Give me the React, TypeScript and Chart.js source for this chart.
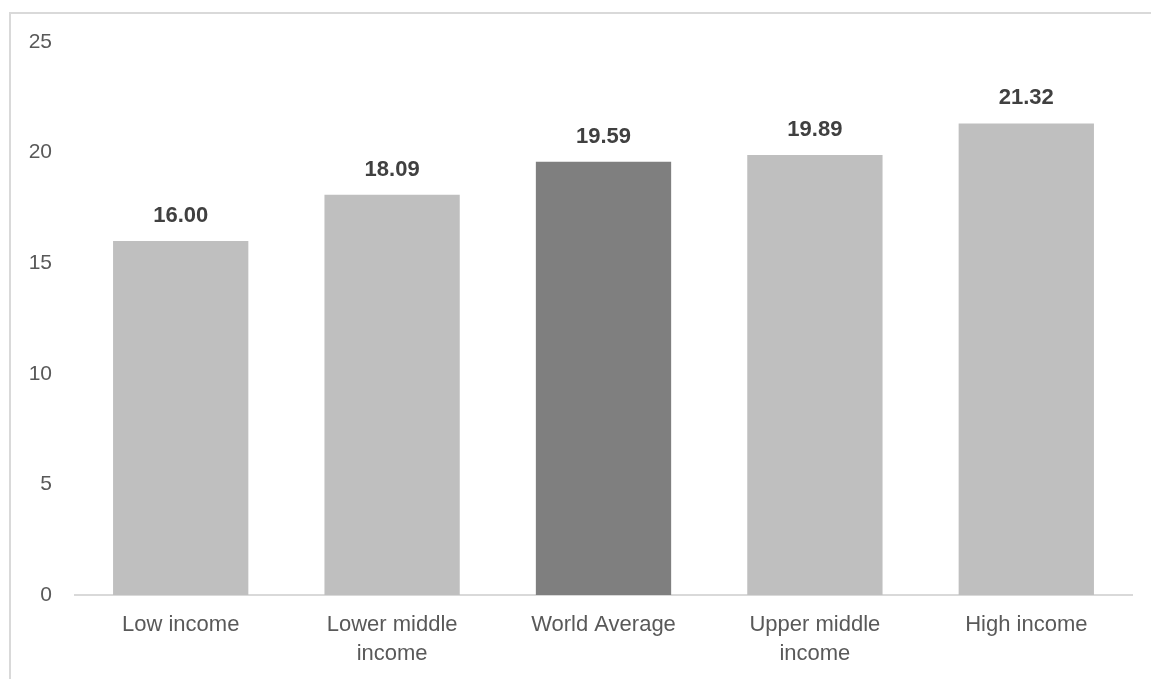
import React, { useEffect, useRef } from "react";
import { Chart, registerables } from "chart.js";

Chart.register(...registerables);

const categories: (string | string[])[] = [
  "Low income",
  ["Lower middle", "income"],
  "World Average",
  ["Upper middle", "income"],
  "High income",
];
const values: number[] = [16.0, 18.09, 19.59, 19.89, 21.32];
const barColors: string[] = ["#bfbfbf", "#bfbfbf", "#7f7f7f", "#bfbfbf", "#bfbfbf"];
const yTicks: number[] = [0, 5, 10, 15, 20, 25];

const FONT = "'Liberation Sans', Arial, sans-serif";

const valueLabels = {
  id: "valueLabels",
  afterDatasetsDraw(chart: any) {
    const ctx = chart.ctx;
    const meta = chart.getDatasetMeta(0);
    ctx.save();
    ctx.font = `bold 22px ${FONT}`;
    ctx.fillStyle = "#404040";
    ctx.textAlign = "center";
    ctx.textBaseline = "middle";
    meta.data.forEach((bar: any, i: number) => {
      ctx.fillText(values[i].toFixed(2), bar.x, bar.y - 25);
    });
    ctx.restore();
  },
};

export default function App() {
  const ref = useRef<HTMLCanvasElement | null>(null);
  useEffect(() => {
    document.body.style.margin = "0";
    const chart = new Chart(ref.current as HTMLCanvasElement, {
      type: "bar",
      data: {
        labels: categories,
        datasets: [
          {
            data: values,
            backgroundColor: barColors,
            barPercentage: 0.64,
            categoryPercentage: 1,
          },
        ],
      },
      options: {
        animation: false,
        responsive: false,
        maintainAspectRatio: false,
        layout: { padding: { top: 42, right: 19, left: 0, bottom: 0 } },
        plugins: { legend: { display: false }, tooltip: { enabled: false } },
        scales: {
          x: {
            grid: { display: false, drawTicks: false },
            border: { display: true, color: "#d9d9d9", width: 2 },
            ticks: {
              color: "#595959",
              font: { family: FONT, size: 22, lineHeight: 1.3 },
              padding: 16,
              maxRotation: 0,
              autoSkip: false,
            },
            afterFit(s: any) {
              s.height = 84;
            },
          },
          y: {
            min: 0,
            max: 25,
            afterBuildTicks(s: any) {
              s.ticks = yTicks.map((v) => ({ value: v }));
            },
            grid: { display: false, drawTicks: false },
            border: { display: false },
            ticks: {
              color: "#595959",
              font: { family: FONT, size: 21 },
              padding: 23,
            },
            afterFit(s: any) {
              s.width = 75;
            },
          },
        },
      },
      plugins: [valueLabels],
    });
    return () => chart.destroy();
  }, []);
  return (
    <div style={{ position: "relative", width: 1151, height: 679, overflow: "hidden" }}>
      <div
        style={{
          position: "absolute",
          left: 9,
          top: 12,
          width: 1300,
          height: 800,
          borderTop: "2px solid #d9d9d9",
          borderLeft: "2px solid #d9d9d9",
        }}
      />
      <canvas ref={ref} width={1151} height={679} style={{ position: "absolute", left: 0, top: 0 }} />
    </div>
  );
}
